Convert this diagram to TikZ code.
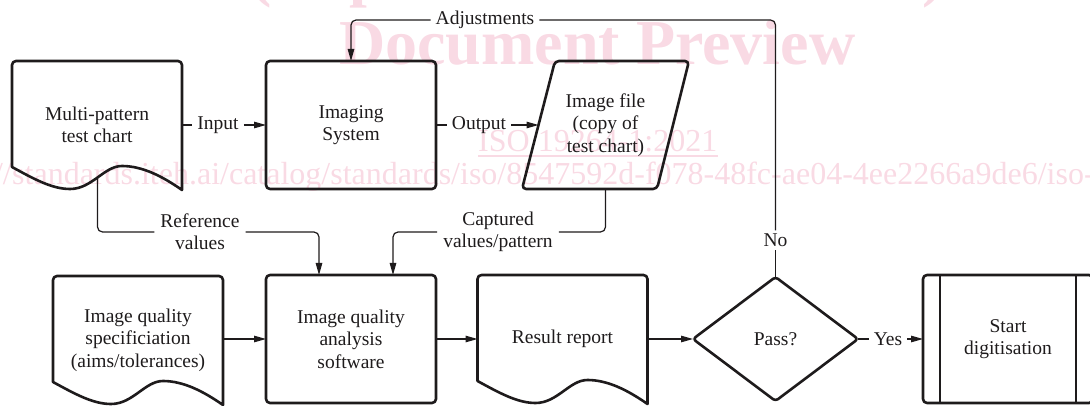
\documentclass[tikz,border=0pt]{standalone}
\usepackage{fontspec}
\setmainfont{Liberation Serif}
\newfontfamily\wmfont{Liberation Serif}
\usetikzlibrary{arrows.meta,calc}

\definecolor{ink}{RGB}{30,27,28}
\definecolor{wm}{RGB}{249,218,228}

% document symbol: flat top with rounded corners, wavy bottom edge
\newcommand\flowdoc[1]{%
  \draw[outline] ($(#1.north west)+(0,106)$)
    .. controls ($(#1.north west)+(22,118)$) and ($(#1.north west)+(40,128)$) .. ($(#1.north west)+(58,128)$)
    .. controls ($(#1.north west)+(80,128)$) and ($(#1.north west)+(92,105)$) .. ($(#1.north west)+(110,105)$)
    .. controls ($(#1.north west)+(130,105)$) and ($(#1.north west)+(150,115)$) .. ($(#1.north west)+(170,129)$)
    [rounded corners=4pt] -- (#1.north east) -- (#1.north west) [sharp corners] -- cycle;}

\begin{document}
\begin{tikzpicture}[x=1pt,y=-1pt,
  every node/.style={font=\fontsize{19.5}{22.4}\selectfont, text=ink},
  shapebox/.style={minimum width=170pt, minimum height=128pt, inner sep=0pt, outer sep=0pt, align=center},
  outline/.style={draw=ink, line width=2.6pt, line join=round},
  conn/.style={draw=ink, line width=1.2pt, rounded corners=5pt},
  arr/.style={-{Triangle[length=12pt,width=6.5pt]}},
  lbl/.style={inner xsep=5pt, inner ysep=3pt, align=center},
  wmark/.style={inner sep=0pt, text=wm},
]
\useasboundingbox (0,0) rectangle (1090,406);

% background stamp
\node[wmark, anchor=base, font=\wmfont\bfseries\fontsize{64}{64}\selectfont] (wmA) at (597,-5) {(https://standards.iteh.ai)};
\node[wmark, anchor=base west, font=\wmfont\bfseries\fontsize{64}{64}\selectfont] (wmB) at (339,65) {Document Preview};
\node[wmark, anchor=base west, font=\wmfont\fontsize{32}{32}\selectfont] (wmC) at (478,152) {ISO 19264-1:2021};
\draw[wm, line width=1.6pt] ($(wmC.base west)+(0,4)$) -- ($(wmC.base east)+(0,4)$);
\node[wmark, anchor=base east, font=\wmfont\fontsize{32}{32}\selectfont] (wmD) at (12,185) {https://};
\node[wmark, anchor=base west, font=\wmfont\fontsize{32}{32}\selectfont] (wmE) at (12,185) {standards.iteh.ai/catalog/standards/iso/8547592d-f078-48fc-ae04-4ee2266a9de6/iso-19264-1-2021};

% process symbols
\node[shapebox] (d1) at (97,125) {Multi-pattern\\test chart};
\node[shapebox] (img) at (351,125) {Imaging\\System};
\node[shapebox, minimum width=167pt] (file) at (605.5,125) {Image file\\(copy of\\test chart)};
\node[shapebox] (spec) at (138,340) {Image quality\\specificiation\\(aims/tolerances)};
\node[shapebox] (ana) at (351,339) {Image quality\\analysis\\software};
\node[shapebox] (res) at (562.5,339) {Result report};
\node[shapebox, minimum width=165pt, minimum height=124pt] (pass) at (775.5,339) {Pass?};
\node[shapebox] (start) at (1008,339) {Start\\digitisation};

\flowdoc{d1}
\flowdoc{spec}
\flowdoc{res}
\draw[outline, rounded corners=4pt] (img.north west) rectangle (img.south east);
\draw[outline, rounded corners=4pt] (ana.north west) rectangle (ana.south east);
\draw[outline, rounded corners=4pt] ($(file.north west)+(33,0)$) -- (file.north east) -- ($(file.south east)+(-32,0)$) -- (file.south west) -- cycle;
\draw[outline, rounded corners=3pt] (pass.north) -- (pass.east) -- (pass.south) -- (pass.west) -- cycle;
\draw[outline, rounded corners=4pt] (start.north west) rectangle (start.south east);
\draw[outline] ($(start.north west)+(17,0)$) -- ($(start.south west)+(17,0)$);
\draw[outline] ($(start.north east)+(-17,0)$) -- ($(start.south east)+(-17,0)$);

% connector labels
\node[lbl] (in) at (218,125) {Input};
\node[lbl] (out) at (479,125) {Output};
\node[lbl] (adj) at (485,20) {Adjustments};
\node[lbl] (no) at (775.5,240) {No};
\node[lbl] (yes) at (888,339) {Yes};
\node[lbl, inner xsep=6pt] (ref) at (200,232) {Reference\\values};
\node[lbl, inner xsep=6pt] (cap) at (498,232) {Captured\\values/pattern};

\coordinate (fileL) at ($(file.west)+(16.5,0)$);
\coordinate (d1w) at ($(d1.north west)+(85.5,116.5)$);

% connectors
\draw[conn] (d1.east) -- (in.west);
\draw[conn,arr] (in.east) -- (img.west);
\draw[conn] (img.east) -- (out.west);
\draw[conn,arr] (out.east) -- (fileL);
\draw[conn] (pass.north) -- (no.south);
\draw[conn] (no.north) |- (adj.east);
\draw[conn,arr] (adj.west) -| (img.north);
\draw[conn] (d1w) |- (ref.west);
\draw[conn,arr] (ref.east) -| ($(ana.north west)+(53,0)$);
\draw[conn] (file.south) |- (cap.east);
\draw[conn,arr] (cap.west) -| ($(ana.north west)+(127,0)$);
\draw[conn,arr] (spec.east |- ana.west) -- (ana.west);
\draw[conn,arr] (ana.east) -- (res.west);
\draw[conn,arr] (res.east) -- (pass.west);
\draw[conn] (pass.east) -- (yes.west);
\draw[conn,arr] (yes.east) -- (start.west);
\end{tikzpicture}
\end{document}
